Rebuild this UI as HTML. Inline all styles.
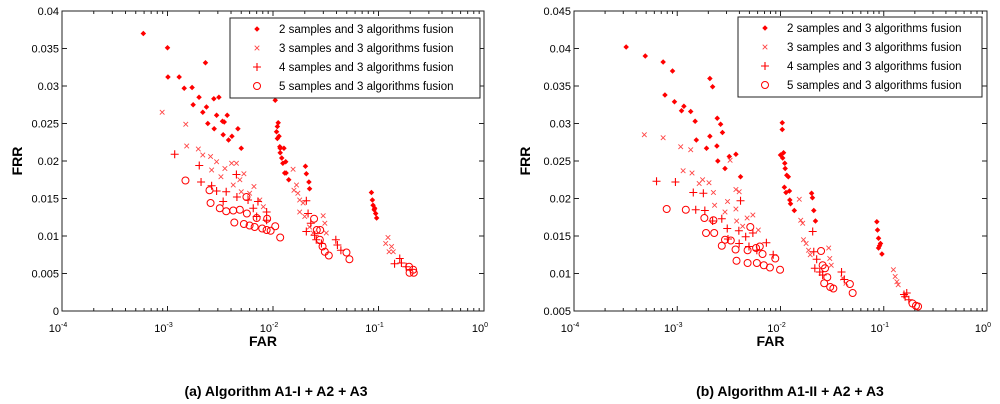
<!DOCTYPE html>
<html><head><meta charset="utf-8"><style>
body{margin:0;background:#fff;width:1000px;height:404px;overflow:hidden}
svg{display:block}
text{font-family:"Liberation Sans",Arial,sans-serif}
</style></head><body>
<svg id="chart" width="1000" height="404" xmlns="http://www.w3.org/2000/svg"></svg>
<script>
// ---- Data: panel (a) ----
const aS2far=[5.9e-4,1.0e-3,1.01e-3,1.29e-3,1.44e-3,1.71e-3,1.99e-3,1.75e-3,2.16e-3,2.34e-3,2.75e-3,3.07e-3,2.92e-3,2.41e-3,2.77e-3,3.32e-3,3.45e-3,3.68e-3,3.37e-3,3.79e-3,4.08e-3,4.65e-3,5.0e-3,2.29e-3,1.05e-2,1.08e-2,1.10e-2,1.12e-2,1.10e-2,1.14e-2,1.16e-2,1.17e-2,1.21e-2,1.24e-2,1.29e-2,1.33e-2,1.41e-2,2.03e-2,2.07e-2,2.19e-2,2.22e-2,1.17e-2,1.27e-2,1.32e-2,8.57e-2,8.75e-2,8.88e-2,9.2e-2,9.4e-2,9.6e-2,9.1e-2];
const aS2frr=[.0370,.0351,.0312,.0312,.0297,.0298,.0285,.0275,.0265,.0272,.0283,.0285,.0261,.0250,.0243,.0253,.0252,.0261,.0235,.0228,.0233,.0243,.0217,.0331,.0281,.0239,.0246,.0251,.0230,.0233,.0219,.0211,.0204,.0197,.0184,.0184,.0175,.0193,.0183,.0172,.0163,.0217,.0217,.0199,.0158,.0148,.0141,.0137,.0130,.0124,.0135];
const aS3far=[8.9e-4,1.49e-3,1.52e-3,1.96e-3,2.16e-3,2.56e-3,2.92e-3,2.62e-3,3.21e-3,3.5e-3,4.05e-3,4.5e-3,4.2e-3,4.85e-3,5.3e-3,5.0e-3,6.0e-3,6.6e-3,7.5e-3,8.1e-3,1.55e-2,1.67e-2,1.58e-2,1.72e-2,1.79e-2,1.93e-2,1.79e-2,2.0e-2,2.22e-2,2.4e-2,2.99e-2,3.1e-2,3.2e-2,0.123,0.133,0.138,0.126,0.117];
const aS3frr=[.0265,.0249,.0220,.0216,.0208,.0206,.0199,.0188,.0179,.0190,.0197,.0197,.0168,.0175,.0183,.0159,.0157,.0166,.0148,.0139,.0189,.0168,.0161,.0157,.0148,.0144,.0132,.0126,.0112,.0104,.0127,.0117,.0104,.0098,.0086,.0079,.0079,.0090];
const aS4far=[1.17e-3,2.0e-3,2.08e-3,2.62e-3,2.92e-3,3.6e-3,3.37e-3,4.5e-3,4.55e-3,5.8e-3,6.5e-3,7.2e-3,8.7e-3,8.7e-3,7.0e-3,2.07e-2,2.15e-2,2.28e-2,2.07e-2,2.48e-2,2.57e-2,2.88e-2,3.94e-2,4.08e-2,4.4e-2,0.159,0.165,0.183,0.142];
const aS4frr=[.0209,.0194,.0172,.0167,.0160,.0159,.0146,.0182,.0152,.0148,.0137,.0146,.0132,.0121,.0126,.0147,.0130,.0117,.0106,.0101,.0095,.0090,.0095,.0088,.0081,.0070,.0064,.0059,.0063];
const aS5far=[1.48e-3,2.5e-3,2.56e-3,3.13e-3,3.6e-3,4.2e-3,4.85e-3,5.6e-3,5.65e-3,4.3e-3,5.3e-3,6.0e-3,6.7e-3,7.0e-3,7.9e-3,8.7e-3,9.5e-3,8.8e-3,1.05e-2,1.17e-2,2.45e-2,2.6e-2,2.8e-2,2.78e-2,2.95e-2,3.1e-2,3.38e-2,4.97e-2,5.3e-2,0.195,0.213,0.216,0.197];
const aS5frr=[.0174,.0161,.0144,.0137,.0133,.0134,.0135,.0152,.0130,.0118,.0116,.0114,.0112,.0124,.0110,.0108,.0107,.0123,.0113,.0098,.0123,.0108,.0108,.0095,.0086,.0079,.0074,.0078,.0069,.0059,.0055,.0051,.0051];
// ---- Data: panel (b) ----
const bS2far=[3.2e-4,4.9e-4,7.3e-4,9.0e-4,7.6e-4,9.4e-4,1.10e-3,1.16e-3,1.35e-3,1.49e-3,1.53e-3,1.92e-3,2.07e-3,2.07e-3,2.2e-3,2.44e-3,2.63e-3,2.74e-3,2.42e-3,2.47e-3,2.9e-3,3.19e-3,3.7e-3,4.1e-3,1.04e-2,1.04e-2,1.0e-2,1.05e-2,1.07e-2,1.1e-2,1.11e-2,1.15e-2,1.19e-2,1.09e-2,1.13e-2,1.22e-2,1.23e-2,1.25e-2,1.36e-2,2.0e-2,2.04e-2,2.1e-2,2.18e-2,8.57e-2,8.7e-2,8.9e-2,9.3e-2,8.9e-2,9.6e-2,9.1e-2];
const bS2frr=[.0402,.0390,.0382,.0370,.0338,.0329,.0317,.0323,.0316,.0303,.0278,.0267,.0283,.0360,.0349,.0307,.0299,.0288,.0270,.0250,.0240,.0256,.0259,.0229,.0301,.0292,.0258,.0254,.0261,.0247,.0240,.0231,.0229,.0215,.0208,.0210,.0198,.0193,.0184,.0207,.0201,.0184,.0170,.0169,.0158,.0147,.0140,.0134,.0126,.0137];
const bS3far=[4.8e-4,7.3e-4,1.08e-3,1.35e-3,1.14e-3,1.39e-3,1.63e-3,1.76e-3,2.03e-3,2.24e-3,2.3e-3,3.07e-3,3.25e-3,3.7e-3,3.98e-3,3.7e-3,2.9e-3,3.76e-3,4.3e-3,4.75e-3,5.4e-3,6.1e-3,1.52e-2,1.57e-2,1.64e-2,1.67e-2,1.77e-2,1.87e-2,1.94e-2,2.93e-2,3.0e-2,3.1e-2,4.0e-2,4.3e-2,0.124,0.129,0.134,0.138];
const bS3frr=[.0285,.0281,.0269,.0265,.0237,.0234,.0220,.0225,.0221,.0208,.0191,.0196,.0251,.0212,.0209,.0186,.0182,.0170,.0163,.0174,.0178,.0158,.0199,.0171,.0167,.0145,.0140,.0131,.0125,.0134,.0120,.0111,.0094,.0087,.0105,.0096,.0089,.0085];
const bS4far=[6.3e-4,9.6e-4,1.43e-3,1.79e-3,1.51e-3,1.85e-3,2.2e-3,2.7e-3,3.05e-3,3.1e-3,3.95e-3,3.98e-3,4.1e-3,4.6e-3,4.95e-3,5.4e-3,5.9e-3,7.3e-3,8.5e-3,2.05e-2,2.1e-2,2.24e-2,2.15e-2,2.4e-2,2.56e-2,3.9e-2,4.15e-2,0.167,0.161,0.175,0.157];
const bS4frr=[.0223,.0222,.0208,.0207,.0185,.0184,.0170,.0173,.0160,.0146,.0157,.0140,.0197,.0149,.0136,.0154,.0131,.0141,.0125,.0156,.0129,.0119,.0107,.0102,.0098,.0102,.0092,.0074,.0069,.0065,.0072];
const bS5far=[7.9e-4,1.21e-3,1.83e-3,2.24e-3,1.9e-3,2.28e-3,2.7e-3,2.9e-3,3.3e-3,3.67e-3,3.75e-3,4.8e-3,4.8e-3,5.1e-3,5.8e-3,5.9e-3,6.3e-3,6.7e-3,6.9e-3,7.9e-3,8.9e-3,9.9e-3,2.47e-2,2.56e-2,2.7e-2,2.84e-2,2.65e-2,3.03e-2,3.25e-2,4.7e-2,5.0e-2,0.19,0.205,0.215];
const bS5frr=[.0186,.0185,.0174,.0171,.0154,.0154,.0137,.0145,.0144,.0132,.0117,.0131,.0114,.0162,.0134,.0114,.0136,.0126,.0111,.0108,.0120,.0105,.0130,.0111,.0107,.0095,.0087,.0082,.0080,.0086,.0074,.0060,.0057,.0056];
const xTickExps=[-4,-3,-2,-1,0];
const aYTicks=[0,0.005,0.01,0.015,0.02,0.025,0.03,0.035,0.04];
const aYLabels=["0","0.005","0.01","0.015","0.02","0.025","0.03","0.035","0.04"];
const bYTicks=[0.005,0.01,0.015,0.02,0.025,0.03,0.035,0.04,0.045];
const bYLabels=["0.005","0.01","0.015","0.02","0.025","0.03","0.035","0.04","0.045"];
const legendLabels=["2 samples and 3 algorithms fusion","3 samples and 3 algorithms fusion","4 samples and 3 algorithms fusion","5 samples and 3 algorithms fusion"];

const NS="http://www.w3.org/2000/svg";
const svg=document.getElementById('chart');
function mk(tag,attrs,parent){const e=document.createElementNS(NS,tag);for(const k in attrs)e.setAttribute(k,attrs[k]);(parent||svg).appendChild(e);return e;}

function marker(g,type,x,y){
  let e;
  if(type===0){
    e=mk('path',{d:`M${x-2.2},${y}L${x},${y-2.2}L${x+2.2},${y}L${x},${y+2.2}Z`,fill:'#f00',stroke:'#f00','stroke-width':0.8},g);
  }else if(type===1){
    e=mk('path',{d:`M${x-2.3},${y-2.3}L${x+2.3},${y+2.3}M${x-2.3},${y+2.3}L${x+2.3},${y-2.3}`,stroke:'#f44','stroke-width':0.9,fill:'none'},g);
  }else if(type===2){
    e=mk('path',{d:`M${x-4},${y}L${x+4},${y}M${x},${y-4}L${x},${y+4}`,stroke:'#f00','stroke-width':1.1,fill:'none'},g);
  }else{
    e=mk('circle',{cx:x,cy:y,r:3.5,stroke:'#f00','stroke-width':1,fill:'none'},g);
  }
  return e;
}

function panel(opt){
  const {id,L,R,T,B,ymin,ymax,yt,yl,series,legend,caption,cx,frrX}=opt;
  const g=mk('g',{});
  
  
  const xs=v=>L+(Math.log10(v)+4)/4*(R-L);
  const ys=v=>B-(v-ymin)/(ymax-ymin)*(B-T);
  const frame=mk('rect',{x:L,y:T,width:R-L,height:B-T,fill:'#fff',stroke:'#222','stroke-width':1},g);
  
  
  let d='';
  for(let e=-4;e<0;e++){for(let m=1;m<10;m++){const x=xs(m*Math.pow(10,e));const len=m===1?5:3;d+=`M${x},${B}V${B-len}M${x},${T}V${T+len}`;}}
  d+=`M${R},${B}V${B-5}M${R},${T}V${T+5}`;
  yt.forEach(v=>{const y=ys(v);d+=`M${L},${y}H${L+5}M${R},${y}H${R-5}`;});
  const ticks=mk('path',{d:d,stroke:'#222','stroke-width':1,fill:'none'},g);
  
  
  xTickExps.forEach(e=>{
    const t=mk('text',{x:xs(Math.pow(10,e))-4,y:B+21,'font-size':11,'text-anchor':'middle',fill:'#000'},g);
    
    
    t.innerHTML=`10<tspan dy="-5" font-size="7">${e}</tspan>`;
  });
  yt.forEach((v,i)=>{
    const t=mk('text',{x:L-3,y:ys(v)+4,'font-size':11,'text-anchor':'end',fill:'#000'},g);
    
    
    t.textContent=yl[i];
  });
  const xt=mk('text',{x:(L+R)/2-10,y:B+35,'font-size':14,'font-weight':'bold','text-anchor':'middle'},g);
  
  
  xt.textContent='FAR';
  const yt2=mk('text',{x:frrX,y:(T+B)/2,'font-size':14,'font-weight':'bold','text-anchor':'middle',transform:`rotate(-90 ${frrX} ${(T+B)/2})`},g);
  
  
  yt2.textContent='FRR';
  series.forEach((s,k)=>{
    const sg=mk('g',{},g);
    
    
    s[0].forEach((f,i)=>{
      const m=marker(sg,k,xs(f),ys(s[1][i]));
      
      
    });
  });
  const lg=mk('g',{},g);
  
  
  mk('rect',{x:legend[0],y:legend[1],width:legend[2],height:legend[3],fill:'#fff',stroke:'#222','stroke-width':1},lg);
  legendLabels.forEach((lab,k)=>{
    const y=legend[1]+11+k*19;
    const ent=mk('g',{},lg);
    
    
    marker(ent,k,legend[0]+27,y);
    const t=mk('text',{x:legend[0]+49,y:y+4,'font-size':11.5,fill:'#000'},ent);
    t.textContent=lab;
  });
  const c=mk('text',{x:cx,y:396,'font-size':14,'font-weight':'bold','text-anchor':'middle'},g);
  
  
  c.textContent=caption;
}

panel({id:'panel-a',L:62,R:484,T:11,B:311,ymin:0,ymax:0.04,yt:aYTicks,yl:aYLabels,
  series:[[aS2far,aS2frr],[aS3far,aS3frr],[aS4far,aS4frr],[aS5far,aS5frr]],
  legend:[230,18,250,80],caption:'(a) Algorithm A1-I + A2 + A3',cx:276,frrX:22});
panel({id:'panel-b',L:574,R:987,T:11,B:311,ymin:0.005,ymax:0.045,yt:bYTicks,yl:bYLabels,
  series:[[bS2far,bS2frr],[bS3far,bS3frr],[bS4far,bS4frr],[bS5far,bS5frr]],
  legend:[738,17,244,80],caption:'(b) Algorithm A1-II + A2 + A3',cx:790,frrX:530});
</script>
</body></html>
